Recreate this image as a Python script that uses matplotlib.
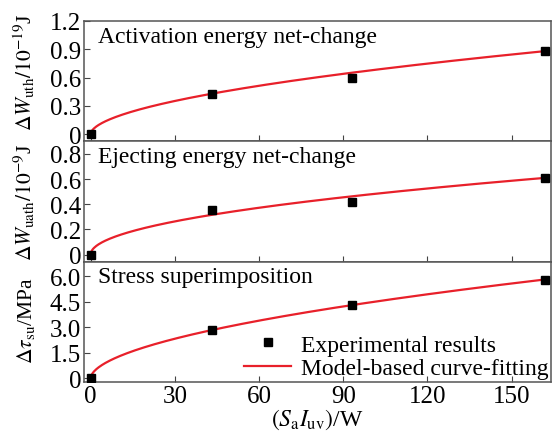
import numpy as np
import matplotlib.pyplot as plt
from matplotlib.ticker import FuncFormatter

plt.rcParams['font.family'] = ['Liberation Serif', 'DejaVu Serif']
plt.rcParams['mathtext.fontset'] = 'stix'
plt.rcParams['font.size'] = 17

# experimental points
x_exp = [0, 43.4, 93.2, 162.0]
w_uth = [0, 0.426, 0.600, 0.877]
w_uath = [0, 0.357, 0.420, 0.612]
tau_su = [0, 2.84, 4.33, 5.77]

# fitted power-law curves y = a * x^b
fit_uth = (0.0553, 0.544)
fit_uath = (0.0486, 0.497)
fit_tau = (0.368, 0.542)

titles = ['Activation energy net-change', 'Ejecting energy net-change', 'Stress superimposition']
ylabels = [r'$\Delta W_{\rm uth}/10^{-19}$J', r'$\Delta W_{\rm uath}/10^{-9}$J', r'$\Delta\tau_{\rm su}$/MPa']
ylabel_pos = [0.58, 0.5, 0.52]
ylims = [(-0.075, 1.2), (-0.055, 0.9), (-0.2, 6.85)]
yticks = [[0, 0.3, 0.6, 0.9, 1.2], [0, 0.2, 0.4, 0.6, 0.8], [0, 1.5, 3.0, 4.5, 6.0]]
xticks = [0, 30, 60, 90, 120, 150]

def fmt(v, pos):
    if abs(v) < 1e-9:
        return '0'
    return '%.1f' % v

fig, axes = plt.subplots(3, 1, sharex=True, figsize=(5.52, 4.39), dpi=100)
fig.subplots_adjust(left=0.152, right=0.998, top=0.950, bottom=0.128, hspace=0)

xs = np.linspace(0, x_exp[-1], 400)
data = [w_uth, w_uath, tau_su]
fits = [fit_uth, fit_uath, fit_tau]
red = '#e8202a'
for i, ax in enumerate(axes):
    a, b = fits[i]
    ax.plot(xs, a * xs ** b, color=red, lw=1.6, label='Model-based curve-fitting', zorder=2)
    ax.plot(x_exp, data[i], 's', color='black', ms=5.5, label='Experimental results', zorder=3)
    ax.set_ylim(*ylims[i])
    ax.set_yticks(yticks[i])
    ax.yaxis.set_major_formatter(FuncFormatter(fmt))
    ax.set_xlim(-2.4, 164)
    ax.set_ylabel(ylabels[i], fontsize=15.5)
    ax.text(0.03, 0.96, titles[i], transform=ax.transAxes, va='top', ha='left')
    ax.tick_params(direction='in', length=4, width=0.8, color='#444444', pad=2, labelsize=18)
    for s in ax.spines.values():
        s.set_color('#555555')
        s.set_linewidth(1.1)
    ax.yaxis.set_label_coords(-0.10, ylabel_pos[i])

axes[-1].set_xticks(xticks)
axes[-1].set_xlabel(r'$(S_{\rm a}I_{\rm uv})$/W', labelpad=0)
h, l = axes[-1].get_legend_handles_labels()
axes[-1].legend(h[::-1], l[::-1], loc='lower right', frameon=False, handlelength=2.0,
                borderpad=0.05, labelspacing=0.1, handletextpad=0.4, borderaxespad=0.05)

fig.savefig('out.png', dpi=100)
